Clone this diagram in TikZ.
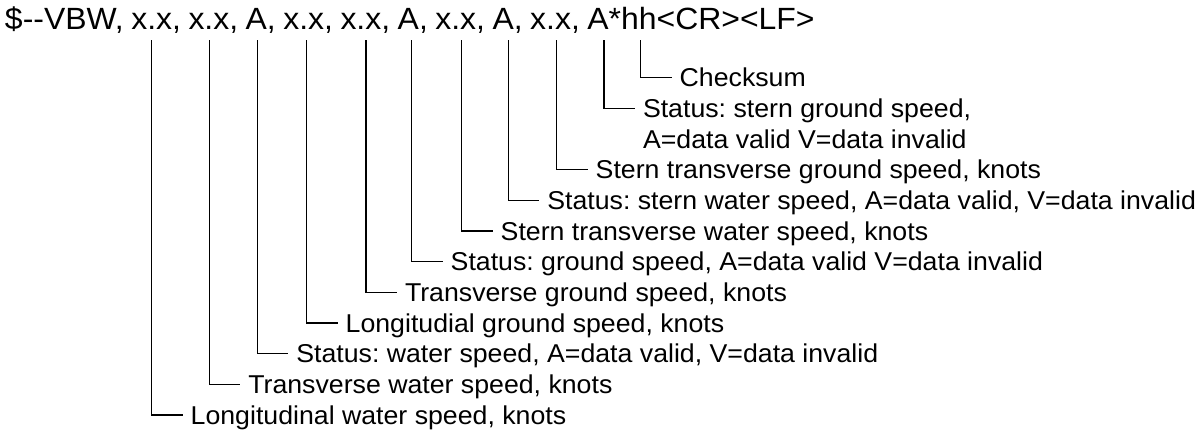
\documentclass[tikz,border=0pt]{standalone}
\usepackage{fontspec}
\setmainfont{Liberation Sans}
\newfontfamily\labfont{Liberation Sans}[FakeStretch=1.035]
\newfontfamily\hdrfont{Liberation Sans}[FakeStretch=1.04,WordSpace=0.845]
\frenchspacing
\tikzset{
  lab/.style={anchor=west, inner xsep=8pt, inner ysep=0pt, outer sep=0pt,
    font=\labfont\fontsize{25.8}{30}\selectfont, text height=18.5pt, text depth=0pt},
  hdrtext/.style={anchor=base west, inner sep=0pt, outer sep=0pt,
    font=\hdrfont\fontsize{30.7}{36}\selectfont},
  lead/.style={draw, line width=1.2pt}
}
\begin{document}
\begin{tikzpicture}[x=1pt,y=-1pt]
\useasboundingbox (0,0) rectangle (1200,434);
\node[hdrtext] (hdr) at (5,29.3) {\$-\kern0pt-VBW, x.x, x.x, A, x.x, x.x, A, x.x, A, x.x, A*hh<CR><LF>};
% tops of the leaders
\coordinate (t1)  at (640.7,40);
\coordinate (t2)  at (604,40);
\coordinate (t4)  at (556.7,40);
\coordinate (t5)  at (508.3,40);
\coordinate (t6)  at (461.7,40);
\coordinate (t7)  at (411.7,40);
\coordinate (t8)  at (366,40);
\coordinate (t9)  at (306.7,40);
\coordinate (t10) at (257.3,40);
\coordinate (t11) at (209.3,40);
\coordinate (t12) at (151.7,40);
% labels
\node[lab] (l1)  at (671.7,77.7)  {Checksum};
\node[lab] (l2)  at (635,108.4)   {Status: stern ground speed,};
\node[lab] (l3)  at (635,139.0)   {A=data valid V=data invalid};
\node[lab] (l4)  at (587.7,169.7) {Stern transverse ground speed, knots};
\node[lab] (l5)  at (539.3,200.3) {Status: stern water speed, A=data valid, V=data invalid};
\node[lab] (l6)  at (492.7,231.0) {Stern transverse water speed, knots};
\node[lab] (l7)  at (442.7,261.7) {Status: ground speed, A=data valid V=data invalid};
\node[lab] (l8)  at (397,292.3)   {Transverse ground speed, knots};
\node[lab] (l9)  at (337.7,323.0) {Longitudial ground speed, knots};
\node[lab] (l10) at (288.3,353.6) {Status: water speed, A=data valid, V=data invalid};
\node[lab] (l11) at (240.3,384.3) {Transverse water speed, knots};
\node[lab] (l12) at (182.7,415.0) {Longitudinal water speed, knots};
% leaders
\draw[lead] (t1)  |- (l1.west);
\draw[lead] (t2)  |- (l2.west);
\draw[lead] (t4)  |- (l4.west);
\draw[lead] (t5)  |- (l5.west);
\draw[lead] (t6)  |- (l6.west);
\draw[lead] (t7)  |- (l7.west);
\draw[lead] (t8)  |- (l8.west);
\draw[lead] (t9)  |- (l9.west);
\draw[lead] (t10) |- (l10.west);
\draw[lead] (t11) |- (l11.west);
\draw[lead] (t12) |- (l12.west);
\end{tikzpicture}
\end{document}
